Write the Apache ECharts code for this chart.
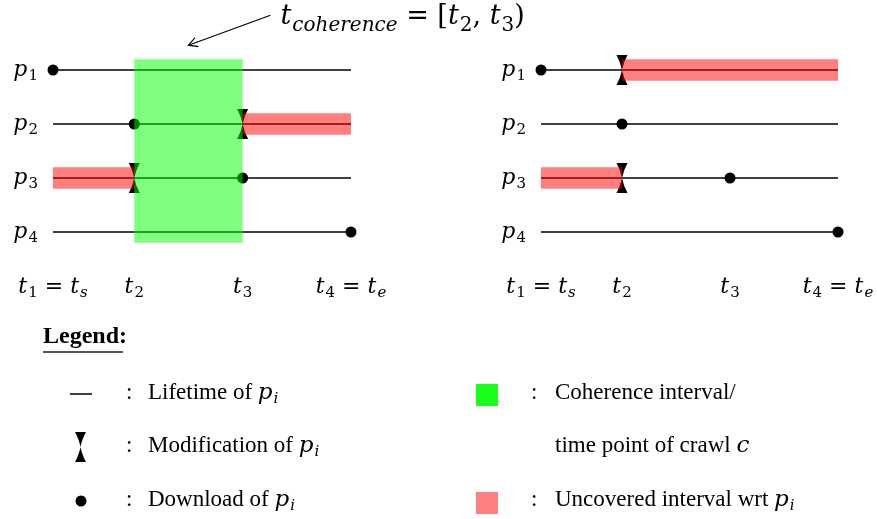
<!DOCTYPE html>
<html><head><meta charset="utf-8">
<script src="https://cdn.jsdelivr.net/npm/echarts@6/dist/echarts.min.js"></script>
<style>html,body{margin:0;padding:0;background:#fff}#c{width:877px;height:519px}</style>
</head><body><div id="c"></div>
<script>
// ---- data ----
const timePoints = [0, 3, 7, 11];                 // t1 .. t4 on the time axis
const timeLabels = ['{m|t}{s|1}{n| = }{m|t}{si|s}', '{m|t}{s|2}', '{m|t}{s|3}', '{m|t}{s|4}{n| = }{m|t}{si|e}'];
const pageRows = [1, 2, 3, 4];
const pageLabels = ['{m|p}{s|1}', '{m|p}{s|2}', '{m|p}{s|3}', '{m|p}{s|4}'];
const lifetimes = [[0, 11, 1], [0, 11, 2], [0, 11, 3], [0, 11, 4]];   // [start, end, page]
const leftDownloads = [[0, 1], [3, 2], [7, 3], [11, 4]];             // [time, page]
const leftModifications = [[7, 2], [3, 3]];
const leftUncovered = [[7, 11, 2], [0, 3, 3]];                        // [start, end, page]
const leftCoherence = [[3, 7, 1, 4]];                                 // [start, end, firstPage, lastPage]
const rightDownloads = [[0, 1], [3, 2], [7, 3], [11, 4]];
const rightModifications = [[3, 1], [3, 3]];
const rightUncovered = [[3, 11, 1], [0, 3, 3]];

// ---- style ----
const MATH = 'DejaVu Serif';
const TXT = 'Liberation Serif';
const BAND = 0.2;
const HOURGLASS = 'M0 0 L10 0 Q6.5 7 5 15 Q6.5 23 10 30 L0 30 Q3.5 23 5 15 Q3.5 7 0 0 Z';
const mathRich = (fs, ss) => ({
  m: {fontFamily: MATH, fontStyle: 'italic', fontSize: fs, color: '#000'},
  n: {fontFamily: MATH, fontSize: fs, color: '#000'},
  s: {fontFamily: MATH, fontSize: ss, color: '#000', padding: [Math.round(ss * 0.85), 0, 0, 1]},
  si: {fontFamily: MATH, fontStyle: 'italic', fontSize: ss, color: '#000', padding: [Math.round(ss * 0.85), 0, 0, 1]}
});
const axisRich = mathRich(22, 15);

const chart = echarts.init(document.getElementById('c'), null, {renderer: 'canvas'});

const grids = [
  {left: 53, width: 298, top: 70, height: 162},
  {left: 541, width: 297, top: 70, height: 162}
];
const xAxes = grids.map((g, i) => ({
  gridIndex: i, type: 'value', min: 0, max: 11,
  axisLine: {show: false}, axisTick: {show: false}, splitLine: {show: false},
  axisLabel: {customValues: timePoints, showMinLabel: true, showMaxLabel: true, margin: 41,
    formatter: v => timeLabels[timePoints.indexOf(v)], rich: axisRich}
}));
const yAxes = grids.map((g, i) => ({
  gridIndex: i, type: 'value', min: 1, max: 4, inverse: true,
  axisLine: {show: false}, axisTick: {show: false}, splitLine: {show: false},
  axisLabel: {customValues: pageRows, showMinLabel: true, showMaxLabel: true, margin: 15,
    formatter: v => pageLabels[pageRows.indexOf(v)], rich: axisRich}
}));

function segSeries(i, data) {
  return {type: 'custom', xAxisIndex: i, yAxisIndex: i, data, z: 1, silent: true,
    encode: {x: [0, 1], y: 2},
    renderItem: (p, api) => {
      const a = api.coord([api.value(0), api.value(2)]);
      const b = api.coord([api.value(1), api.value(2)]);
      return {type: 'line', shape: {x1: a[0], y1: a[1], x2: b[0], y2: b[1]}, style: {stroke: '#000', lineWidth: 1.4}};
    }};
}
function bandSeries(i, data, fill, z) {
  return {type: 'custom', xAxisIndex: i, yAxisIndex: i, data, z, silent: true,
    encode: {x: [0, 1], y: 2},
    renderItem: (p, api) => {
      const last = data[p.dataIndex].length > 3 ? api.value(3) : api.value(2);
      const a = api.coord([api.value(0), api.value(2) - BAND]);
      const b = api.coord([api.value(1), last + BAND]);
      return {type: 'rect', shape: {x: Math.min(a[0], b[0]), y: Math.min(a[1], b[1]),
        width: Math.abs(b[0] - a[0]), height: Math.abs(b[1] - a[1])}, style: {fill}};
    }};
}
function dotSeries(i, data) {
  return {type: 'scatter', xAxisIndex: i, yAxisIndex: i, data, z: 2, silent: true,
    symbol: 'circle', symbolSize: 11, itemStyle: {color: '#000', opacity: 1}};
}
function modSeries(i, data) {
  return {type: 'scatter', xAxisIndex: i, yAxisIndex: i, data, z: 3, silent: true,
    symbol: 'path://' + HOURGLASS, symbolSize: [11, 30], itemStyle: {color: '#000', opacity: 1}};
}

const series = [
  segSeries(0, lifetimes), dotSeries(0, leftDownloads), modSeries(0, leftModifications),
  bandSeries(0, leftUncovered, 'rgba(255,0,0,0.5)', 4), bandSeries(0, leftCoherence, 'rgba(0,255,0,0.5)', 5),
  segSeries(1, lifetimes), dotSeries(1, rightDownloads), modSeries(1, rightModifications),
  bandSeries(1, rightUncovered, 'rgba(255,0,0,0.5)', 4)
];

chart.setOption({
  animation: false,
  backgroundColor: '#fff',
  grid: grids, xAxis: xAxes, yAxis: yAxes, series
});

// ---- annotation + legend ----
const c0 = leftCoherence[0];
const topMid = chart.convertToPixel({gridIndex: 0}, [(c0[0] + c0[1]) / 2, c0[2] - BAND]);
const tip = [topMid[0], topMid[1] - 14];
const start = [tip[0] + 82, tip[1] - 30];
const len = Math.hypot(start[0] - tip[0], start[1] - tip[1]);
const ux = (start[0] - tip[0]) / len, uy = (start[1] - tip[1]) / len;
const rot = (ang, r) => [tip[0] + r * (ux * Math.cos(ang) - uy * Math.sin(ang)), tip[1] + r * (ux * Math.sin(ang) + uy * Math.cos(ang))];
const h1 = rot(0.5, 10), h2 = rot(-0.5, 10);

// hourglass outline as polygon points (quadratic curves sampled)
function quad(p0, p1, p2, n) {
  const pts = [];
  for (let k = 1; k <= n; k++) {
    const t = k / n, a = (1 - t) * (1 - t), b = 2 * (1 - t) * t, c = t * t;
    pts.push([a * p0[0] + b * p1[0] + c * p2[0], a * p0[1] + b * p1[1] + c * p2[1]]);
  }
  return pts;
}
function hourglassPoints(x, y, w, h) {
  const X = v => x + v * w / 10, Y = v => y + v * h / 30;
  let pts = [[X(0), Y(0)], [X(10), Y(0)]];
  pts = pts.concat(quad([X(10), Y(0)], [X(6.5), Y(7)], [X(5), Y(15)], 8));
  pts = pts.concat(quad([X(5), Y(15)], [X(6.5), Y(23)], [X(10), Y(30)], 8));
  pts.push([X(0), Y(30)]);
  pts = pts.concat(quad([X(0), Y(30)], [X(3.5), Y(23)], [X(5), Y(15)], 8));
  pts = pts.concat(quad([X(5), Y(15)], [X(3.5), Y(7)], [X(0), Y(0)], 8));
  return pts;
}

const txtStyle = (text, x, y, extra) => Object.assign({
  text, x, y, fill: '#000', font: '23px "' + TXT + '"',
  align: 'left', verticalAlign: 'middle', textAlign: 'left', textVerticalAlign: 'middle'
}, extra || {});

const legendRich = {
  m: {fontFamily: MATH, fontStyle: 'italic', fontSize: 23, color: '#000'},
  s: {fontFamily: MATH, fontStyle: 'italic', fontSize: 15, color: '#000', padding: [13, 0, 0, 1]}
};

const graphic = [
  {type: 'line', shape: {x1: start[0], y1: start[1], x2: tip[0], y2: tip[1]}, style: {stroke: '#000', lineWidth: 1.2}},
  {type: 'polyline', shape: {points: [h1, tip, h2]}, style: {stroke: '#000', lineWidth: 1.2, fill: null}},
  {type: 'text', style: txtStyle('{m|t}{si|coherence}{n| = [}{m|t}{s|2}{n|, }{m|t}{s|3}{n|)}', start[0] + 10, start[1] + 2,
     {rich: mathRich(27, 20)})},
  // legend
  {type: 'text', style: txtStyle('Legend:', 43, 337, {font: 'bold 24px "' + TXT + '"'})},
  {type: 'line', shape: {x1: 43, y1: 352, x2: 123, y2: 352}, style: {stroke: '#555', lineWidth: 2}},
  {type: 'line', shape: {x1: 70, y1: 394, x2: 92, y2: 394}, style: {stroke: '#000', lineWidth: 1.5}},
  {type: 'polygon', shape: {points: hourglassPoints(75, 432, 11, 30)}, style: {fill: '#000'}},
  {type: 'circle', shape: {cx: 81, cy: 501, r: 5.5}, style: {fill: '#000'}},
  {type: 'text', style: txtStyle(':', 126, 393)},
  {type: 'text', style: txtStyle(':', 126, 446)},
  {type: 'text', style: txtStyle(':', 126, 500)},
  {type: 'text', style: txtStyle('Lifetime of {m|p}{s|i}', 148, 393, {rich: legendRich})},
  {type: 'text', style: txtStyle('Modification of {m|p}{s|i}', 148, 446, {rich: legendRich})},
  {type: 'text', style: txtStyle('Download of {m|p}{s|i}', 148, 500, {rich: legendRich})},
  {type: 'rect', shape: {x: 476, y: 384, width: 22, height: 22}, style: {fill: '#1aff1a'}},
  {type: 'rect', shape: {x: 476, y: 492, width: 22, height: 22}, style: {fill: '#ff8080'}},
  {type: 'text', style: txtStyle(':', 531, 393)},
  {type: 'text', style: txtStyle(':', 531, 500)},
  {type: 'text', style: txtStyle('Coherence interval/', 555, 393)},
  {type: 'text', style: txtStyle('time point of crawl {m|c}', 555, 446, {rich: legendRich})},
  {type: 'text', style: txtStyle('Uncovered interval wrt {m|p}{s|i}', 555, 500, {rich: legendRich})}
];
chart.setOption({graphic});
</script>
</body></html>
